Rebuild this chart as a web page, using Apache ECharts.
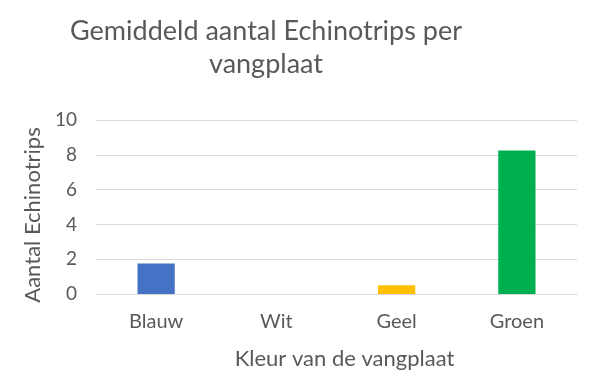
<!DOCTYPE html>
<html>
<head>
<meta charset="utf-8">
<script src="https://cdn.jsdelivr.net/npm/echarts@6/dist/echarts.min.js"></script>
<style>
html,body{margin:0;padding:0;background:#fff;}
#chart{width:600px;height:381px;}
</style>
</head>
<body>
<div id="chart"></div>
<script>
const categories = ['Blauw', 'Wit', 'Geel', 'Groen'];
const values = [1.75, 0, 0.5, 8.25];
const yTicks = [0, 2, 4, 6, 8, 10];

const barColors = ['#4472C4', '#FFFFFF', '#FFC000', '#00B050'];
const FONT = 'Lato';
const TXT = '#595959';

const chart = echarts.init(document.getElementById('chart'), null, {renderer: 'canvas'});
chart.setOption({
  animation: false,
  backgroundColor: '#ffffff',
  title: {
    text: 'Gemiddeld aantal Echinotrips per\nvangplaat',
    left: 261,
    top: 10,
    textAlign: 'center',
    textStyle: {
      fontFamily: FONT, fontSize: 27, fontWeight: 'normal', color: TXT, lineHeight: 33
    }
  },
  grid: {left: 96, right: 23, top: 120, bottom: 87, containLabel: false},
  xAxis: {
    type: 'category',
    data: categories,
    name: 'Kleur van de vangplaat',
    nameLocation: 'middle',
    nameGap: 54,
    nameTextStyle: {fontFamily: FONT, fontSize: 22, color: TXT, padding: [0, 0, 0, 16]},
    axisLine: {show: true, lineStyle: {color: '#D9D9D9', width: 1}},
    axisTick: {show: false},
    axisLabel: {fontFamily: FONT, fontSize: 20, color: TXT, margin: 18}
  },
  yAxis: {
    type: 'value',
    min: yTicks[0],
    max: yTicks[yTicks.length - 1],
    interval: yTicks[1] - yTicks[0],
    name: 'Aantal Echinotrips',
    nameLocation: 'middle',
    nameGap: 50,
    nameTextStyle: {fontFamily: FONT, fontSize: 22, color: TXT, padding: [0, 16, 0, 0]},
    axisLine: {show: false},
    axisTick: {show: false},
    axisLabel: {fontFamily: FONT, fontSize: 19, color: TXT, margin: 19},
    splitLine: {lineStyle: {color: '#D9D9D9', width: 1}}
  },
  series: [{
    type: 'bar',
    barWidth: '31%',
    data: values.map((v, i) => ({value: v, itemStyle: {color: barColors[i]}}))
  }]
});
</script>
</body>
</html>
